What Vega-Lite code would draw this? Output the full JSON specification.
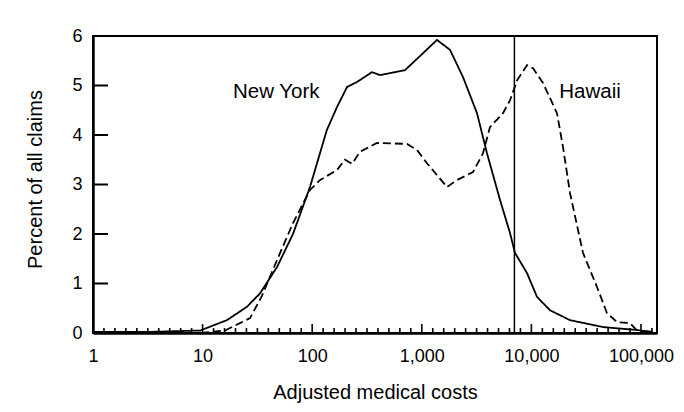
{
  "$schema": "https://vega.github.io/schema/vega-lite/v6.json",
  "autosize": {"type": "none"},
  "width": 564,
  "height": 297,
  "padding": {"left": 93, "top": 36, "right": 27, "bottom": 79},
  "background": "white",
  "config": {
    "view": {"stroke": "black", "strokeWidth": 2},
    "font": "Liberation Sans",
    "axis": {
      "domainColor": "black", "domainWidth": 2.5,
      "ticks": false, "tickSize": 0,
      "labelColor": "black", "labelFontSize": 18, "labelFont": "Liberation Sans",
      "titleColor": "black", "titleFontSize": 20, "titleFontWeight": "normal", "titleFont": "Liberation Sans",
      "grid": false, "labelFlush": false, "labelOverlap": false
    }
  },
  "datasets": {
    "curves": [
      {"region": "New York", "cost": 1, "percent": 0.02},
      {"region": "New York", "cost": 3, "percent": 0.02},
      {"region": "New York", "cost": 9.5, "percent": 0.05},
      {"region": "New York", "cost": 16.7, "percent": 0.26},
      {"region": "New York", "cost": 25.4, "percent": 0.53},
      {"region": "New York", "cost": 33.4, "percent": 0.8},
      {"region": "New York", "cost": 47.7, "percent": 1.33},
      {"region": "New York", "cost": 66.8, "percent": 2.0},
      {"region": "New York", "cost": 95.5, "percent": 2.95},
      {"region": "New York", "cost": 136, "percent": 4.1},
      {"region": "New York", "cost": 168, "percent": 4.56},
      {"region": "New York", "cost": 208, "percent": 4.97},
      {"region": "New York", "cost": 256, "percent": 5.07},
      {"region": "New York", "cost": 351, "percent": 5.27},
      {"region": "New York", "cost": 416, "percent": 5.21},
      {"region": "New York", "cost": 703, "percent": 5.31},
      {"region": "New York", "cost": 1377, "percent": 5.92},
      {"region": "New York", "cost": 1809, "percent": 5.72},
      {"region": "New York", "cost": 2377, "percent": 5.17},
      {"region": "New York", "cost": 3190, "percent": 4.44},
      {"region": "New York", "cost": 3935, "percent": 3.63},
      {"region": "New York", "cost": 5170, "percent": 2.69},
      {"region": "New York", "cost": 6380, "percent": 2.02},
      {"region": "New York", "cost": 7080, "percent": 1.62},
      {"region": "New York", "cost": 9120, "percent": 1.21},
      {"region": "New York", "cost": 11250, "percent": 0.73},
      {"region": "New York", "cost": 14780, "percent": 0.46},
      {"region": "New York", "cost": 22500, "percent": 0.26},
      {"region": "New York", "cost": 45000, "percent": 0.12},
      {"region": "New York", "cost": 92000, "percent": 0.06},
      {"region": "New York", "cost": 128500, "percent": 0.02},
      {"region": "Hawaii", "cost": 1, "percent": 0.0},
      {"region": "Hawaii", "cost": 9.5, "percent": 0.0},
      {"region": "Hawaii", "cost": 16, "percent": 0.05},
      {"region": "Hawaii", "cost": 21.9, "percent": 0.2},
      {"region": "Hawaii", "cost": 27.1, "percent": 0.3},
      {"region": "Hawaii", "cost": 34.8, "percent": 0.75},
      {"region": "Hawaii", "cost": 47.7, "percent": 1.47},
      {"region": "Hawaii", "cost": 66.8, "percent": 2.22},
      {"region": "Hawaii", "cost": 95.5, "percent": 2.89},
      {"region": "Hawaii", "cost": 118, "percent": 3.09},
      {"region": "Hawaii", "cost": 168, "percent": 3.29},
      {"region": "Hawaii", "cost": 199, "percent": 3.5},
      {"region": "Hawaii", "cost": 231, "percent": 3.42},
      {"region": "Hawaii", "cost": 273, "percent": 3.66},
      {"region": "Hawaii", "cost": 390, "percent": 3.84},
      {"region": "Hawaii", "cost": 733, "percent": 3.82},
      {"region": "Hawaii", "cost": 903, "percent": 3.7},
      {"region": "Hawaii", "cost": 1115, "percent": 3.43},
      {"region": "Hawaii", "cost": 1698, "percent": 2.95},
      {"region": "Hawaii", "cost": 2094, "percent": 3.09},
      {"region": "Hawaii", "cost": 2931, "percent": 3.25},
      {"region": "Hawaii", "cost": 3614, "percent": 3.63},
      {"region": "Hawaii", "cost": 4190, "percent": 4.16},
      {"region": "Hawaii", "cost": 5510, "percent": 4.44},
      {"region": "Hawaii", "cost": 6380, "percent": 4.7},
      {"region": "Hawaii", "cost": 7390, "percent": 5.1},
      {"region": "Hawaii", "cost": 9120, "percent": 5.41},
      {"region": "Hawaii", "cost": 10350, "percent": 5.35},
      {"region": "Hawaii", "cost": 12770, "percent": 5.05},
      {"region": "Hawaii", "cost": 17130, "percent": 4.44},
      {"region": "Hawaii", "cost": 19420, "percent": 3.76},
      {"region": "Hawaii", "cost": 22500, "percent": 2.83},
      {"region": "Hawaii", "cost": 29560, "percent": 1.62},
      {"region": "Hawaii", "cost": 39700, "percent": 0.93},
      {"region": "Hawaii", "cost": 49000, "percent": 0.4},
      {"region": "Hawaii", "cost": 60400, "percent": 0.22},
      {"region": "Hawaii", "cost": 79400, "percent": 0.2},
      {"region": "Hawaii", "cost": 92000, "percent": 0.05},
      {"region": "Hawaii", "cost": 128500, "percent": 0.02}
    ],
    "cutoff": [{"cost": 7000}],
    "labels": [
      {"label": "New York", "cost": 47, "percent": 4.87},
      {"label": "Hawaii", "cost": 34300, "percent": 4.87}
    ],
    "xMajorTicks": [
      {"cost": 10}, {"cost": 100}, {"cost": 1000}, {"cost": 10000}, {"cost": 100000}
    ],
    "xMinorTicks": [
      {"cost": 1.2589}, {"cost": 1.5849}, {"cost": 1.9953}, {"cost": 2.5119}, {"cost": 3.1623}, {"cost": 3.9811}, {"cost": 5.0119}, {"cost": 6.3096}, {"cost": 7.9433},
      {"cost": 12.589}, {"cost": 15.849}, {"cost": 19.953}, {"cost": 25.119}, {"cost": 31.623}, {"cost": 39.811}, {"cost": 50.119}, {"cost": 63.096}, {"cost": 79.433},
      {"cost": 125.89}, {"cost": 158.49}, {"cost": 199.53}, {"cost": 251.19}, {"cost": 316.23}, {"cost": 398.11}, {"cost": 501.19}, {"cost": 630.96}, {"cost": 794.33},
      {"cost": 1258.9}, {"cost": 1584.9}, {"cost": 1995.3}, {"cost": 2511.9}, {"cost": 3162.3}, {"cost": 3981.1}, {"cost": 5011.9}, {"cost": 6309.6}, {"cost": 7943.3},
      {"cost": 12589}, {"cost": 15849}, {"cost": 19953}, {"cost": 25119}, {"cost": 31623}, {"cost": 39811}, {"cost": 50119}, {"cost": 63096}, {"cost": 79433},
      {"cost": 125890}
    ],
    "yTicks": [
      {"percent": 1}, {"percent": 2}, {"percent": 3}, {"percent": 4}, {"percent": 5}
    ]
  },
  "layer": [
    {
      "data": {"name": "curves"},
      "mark": {"type": "line", "color": "black", "strokeWidth": 1.8, "clip": true},
      "encoding": {
        "x": {
          "field": "cost", "type": "quantitative",
          "scale": {"type": "log", "domain": [1, 140000], "nice": false},
          "axis": {
            "title": "Adjusted medical costs",
            "titleY": 59, "titleBaseline": "middle",
            "values": [1, 10, 100, 1000, 10000, 100000],
            "format": ",",
            "labelPadding": 14
          }
        },
        "y": {
          "field": "percent", "type": "quantitative",
          "scale": {"domain": [0, 6], "nice": false},
          "axis": {
            "title": "Percent of all claims",
            "titleX": -58, "titleY": 143, "titleBaseline": "middle",
            "values": [0, 1, 2, 3, 4, 5, 6],
            "labelPadding": 11
          }
        },
        "strokeDash": {
          "field": "region", "type": "nominal",
          "scale": {"domain": ["New York", "Hawaii"], "range": [[1, 0], [8, 4]]},
          "legend": null
        }
      }
    },
    {
      "data": {"name": "xMinorTicks"},
      "mark": {"type": "rule", "color": "black", "strokeWidth": 1.6},
      "encoding": {
        "x": {"field": "cost", "type": "quantitative"},
        "y": {"datum": 0},
        "y2": {"datum": 0.1}
      }
    },
    {
      "data": {"name": "xMajorTicks"},
      "mark": {"type": "rule", "color": "black", "strokeWidth": 1.6},
      "encoding": {
        "x": {"field": "cost", "type": "quantitative"},
        "y": {"datum": 0},
        "y2": {"datum": 0.18}
      }
    },
    {
      "data": {"name": "yTicks"},
      "mark": {"type": "rule", "color": "black", "strokeWidth": 2},
      "encoding": {
        "y": {"field": "percent", "type": "quantitative"},
        "x": {"datum": 1},
        "x2": {"datum": 1.37}
      }
    },
    {
      "data": {"name": "cutoff"},
      "mark": {"type": "rule", "color": "black", "strokeWidth": 1.5},
      "encoding": {"x": {"field": "cost", "type": "quantitative"}}
    },
    {
      "data": {"name": "labels"},
      "mark": {"type": "text", "font": "Liberation Sans", "fontSize": 20.5, "color": "black", "align": "center", "baseline": "middle"},
      "encoding": {
        "x": {"field": "cost", "type": "quantitative"},
        "y": {"field": "percent", "type": "quantitative"},
        "text": {"field": "label"}
      }
    }
  ]
}
